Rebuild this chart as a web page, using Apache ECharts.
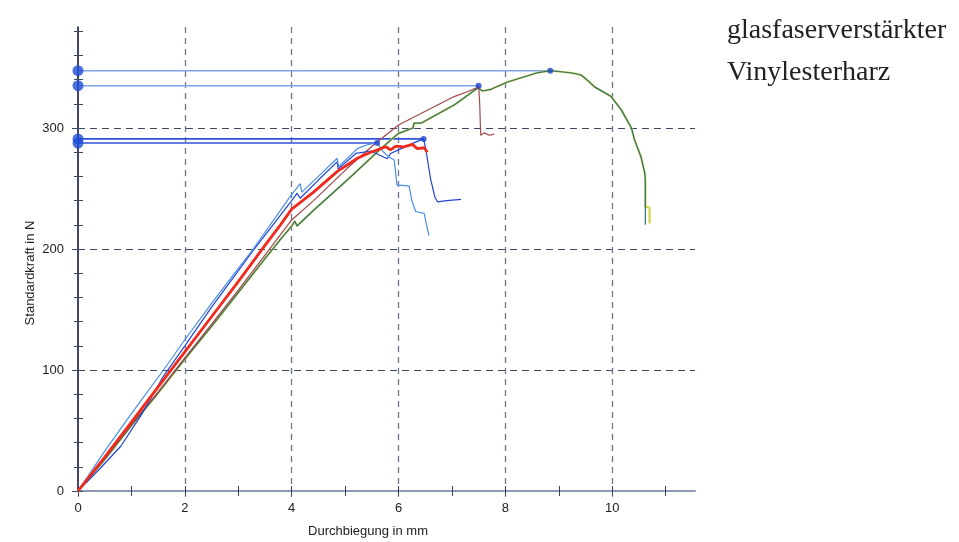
<!DOCTYPE html>
<html><head><meta charset="utf-8">
<script src="https://cdn.jsdelivr.net/npm/echarts@6/dist/echarts.min.js"></script>
<style>html,body{margin:0;padding:0;background:#fff}#c{width:959px;height:542px}</style>
</head><body><div id="c"></div>
<script>
// Durchbiegung (mm), Standardkraft (N)
const xTickValues = [0, 2, 4, 6, 8, 10];
const xMinorTicks = [0, 1, 2, 3, 4, 5, 6, 7, 8, 9, 10, 11];
const yTickValues = [0, 100, 200, 300];
const yMinorTicks = [0, 20, 40, 60, 80, 100, 120, 140, 160, 180, 200, 220, 240, 260, 280, 300, 320, 340, 360, 380];

const redCurve = [[0,0],[0.5,28],[1,57],[1.5,86],[2,115],[2.5,144],[3,173],[3.5,203],[3.79,220],[4,233],[4.41,247],[4.85,264],[5.23,275],[5.48,280],[5.67,283],[5.76,284.5],[5.85,282],[5.95,285],[6.1,284.5],[6.26,286.5],[6.35,283],[6.48,283.7],[6.54,280]];

const lightBlueCurve = [[0,0],[0.5,33],[1,64],[1.6,100],[2,125],[2.5,155],[3,184],[3.28,200],[3.98,244],[4.16,254],[4.19,247],[4.5,260],[4.85,275],[4.88,268],[5.23,283],[5.4,286],[5.6,288],[5.7,281],[5.82,276],[5.92,273.5],[5.97,253],[6.2,252],[6.25,240],[6.32,231],[6.48,229.5],[6.52,221],[6.57,211]];

const darkBlueCurve = [[0,0],[0.4,18],[0.8,37],[1.2,64],[1.6,95],[2,120],[2.5,152],[3,182],[3.3,200],[4,240],[4.1,246],[4.16,242],[4.5,257],[4.85,272],[4.87,266],[5.2,279],[5.48,281],[5.79,274.6],[5.85,279],[6.1,284],[6.35,289],[6.47,291],[6.52,280],[6.6,258],[6.68,243],[6.73,239],[6.9,240],[7.17,241]];

const brownCurve = [[0,0],[0.5,27],[1,55],[1.5,82],[2,110],[2.5,138],[3,166],[3.5,195],[4,224],[4.41,240],[5.04,266.7],[5.53,286],[6.0,302.5],[6.42,312],[6.73,319],[7.04,326],[7.29,330],[7.45,333],[7.5,335],[7.52,320],[7.53,305],[7.54,294],[7.6,296],[7.7,294],[7.79,295]];

const greenCurve = [[0,0],[0.5,26],[1,54],[1.5,81],[2,109],[2.5,136],[3,164],[3.5,192],[3.79,208],[4,219],[4.06,223],[4.1,219],[4.41,232],[5.04,257],[5.67,283],[6.0,295.6],[6.27,300],[6.29,304],[6.42,304],[7.04,319],[7.45,332],[7.5,333],[7.57,330.6],[7.73,332],[8.04,338],[8.6,345.7],[8.84,347.4],[9.04,346.5],[9.25,345.5],[9.42,343.8],[9.55,339],[9.67,334],[9.98,326],[10.17,315],[10.36,300],[10.42,290],[10.54,276],[10.61,262.6],[10.62,257],[10.62,220]];
const yellowTail = [[10.62,235],[10.7,234],[10.7,221]];

const peakDeflections = [8.84, 7.5, 6.47, 5.6];
const peakForces = [347.4, 335, 291, 287.6];
const peakLineColors = ['#7ea4ee', '#7ea4ee', '#2f52d6', '#2f52d6'];

const chart = echarts.init(document.getElementById('c'));
const XMAX = 11.55, YMAX = 383.5;
const fontSans = '"Liberation Sans", Arial, sans-serif';

const series = [];
peakForces.forEach((f, i) => {
  series.push({type:'line', xAxisIndex:0, yAxisIndex:0, data:[[0,f],[peakDeflections[i],f]], symbol:'none',
    lineStyle:{color:peakLineColors[i], width:1.6}, z:2, silent:true});
});
series.push({type:'line', data: greenCurve.slice(0, -1).concat(yellowTail), symbol:'none', lineStyle:{color:'#d2d64a', width:2.2}, z:3});
series.push({type:'line', data: greenCurve, symbol:'none', lineStyle:{color:'#2e6e74', width:1.2}, z:4});
series.push({type:'line', data: brownCurve, symbol:'none', lineStyle:{color:'#a0484a', width:1.2}, z:4});
series.push({type:'line', data: darkBlueCurve, symbol:'none', lineStyle:{color:'#2244d4', width:1.2}, z:4});
series.push({type:'line', data: lightBlueCurve, symbol:'none', lineStyle:{color:'#4a8ee8', width:1.2}, z:4});
series.push({type:'line', data: redCurve, symbol:'none', lineStyle:{color:'#f02a1c', width:2.8}, z:5});
series.push({type:'scatter', data: peakForces.map(f => [0, f]), symbolSize:11, itemStyle:{color:'#1f4fd6'}, clip:false, z:6});
series.push({type:'scatter', data: peakForces.map((f, i) => [peakDeflections[i], f]), symbolSize:6, itemStyle:{color:'#1f45c8'}, clip:false, z:6});

const baseX = {type:'value', min:0, max:XMAX, position:'bottom', gridIndex:0};
const baseY = {type:'value', min:0, max:YMAX, position:'left', gridIndex:0};

chart.setOption({
  animation:false,
  backgroundColor:'#ffffff',
  grid:{left:78, top:27, width:617, height:464, containLabel:false, outerBoundsMode:'none'},
  xAxis:[
    Object.assign({}, baseX, {interval:2,
      axisLine:{show:true, onZero:false, lineStyle:{color:'#8c9bb2', width:2}},
      axisTick:{show:true, length:6, customValues: xTickValues, lineStyle:{color:'#7a8498', width:1}},
      axisLabel:{margin:11, fontSize:13, color:'#222', fontFamily:fontSans, customValues: xTickValues,
        formatter: v => xTickValues.indexOf(v) >= 0 ? String(v) : ''},
      splitLine:{show:true, showMinLine:false, showMaxLine:true, lineStyle:{type:[6,5], color:'#6e7689', width:1.3}}}),
    Object.assign({}, baseX, {interval:1, axisLine:{show:false}, axisLabel:{show:false}, splitLine:{show:false},
      axisTick:{show:true, inside:true, length:5, customValues: xMinorTicks, lineStyle:{color:'#3a3f55', width:1}}}),
    Object.assign({}, baseX, {interval:1, axisLine:{show:false}, axisLabel:{show:false}, splitLine:{show:false},
      axisTick:{show:true, inside:false, length:5, customValues: xMinorTicks, lineStyle:{color:'#3a3f55', width:1}}})
  ],
  yAxis:[
    Object.assign({}, baseY, {interval:100,
      axisLine:{show:true, onZero:false, lineStyle:{color:'#141a44', width:1.6}},
      axisTick:{show:true, length:6, customValues: yTickValues, lineStyle:{color:'#3a4866', width:1}},
      axisLabel:{margin:14, fontSize:13, color:'#222', fontFamily:fontSans, customValues: yTickValues,
        formatter: v => yTickValues.indexOf(v) >= 0 ? String(v) : ''},
      splitLine:{show:true, showMinLine:false, showMaxLine:true, lineStyle:{type:[7,5], color:'#3a4866', width:1.2}}}),
    Object.assign({}, baseY, {interval:20, axisLine:{show:false}, axisLabel:{show:false}, splitLine:{show:false},
      axisTick:{show:true, inside:true, length:5, customValues: yMinorTicks, lineStyle:{color:'#3a4866', width:1}}}),
    Object.assign({}, baseY, {interval:20, axisLine:{show:false}, axisLabel:{show:false}, splitLine:{show:false},
      axisTick:{show:true, inside:false, length:4, customValues: yMinorTicks, lineStyle:{color:'#3a4866', width:1}}})
  ],
  graphic:[
    {type:'text', x:727, y:31, style:{text:'glasfaserverstärkter', font:'28px "Liberation Serif", serif', fill:'#222', textAlign:'left', textVerticalAlign:'middle'}},
    {type:'text', x:727, y:73, style:{text:'Vinylesterharz', font:'28px "Liberation Serif", serif', fill:'#222', textAlign:'left', textVerticalAlign:'middle'}},
    {type:'text', x:368, y:531, style:{text:'Durchbiegung in mm', font:'13px "Liberation Sans", Arial, sans-serif', fill:'#222', textAlign:'center', textVerticalAlign:'middle'}},
    {type:'text', x:30, y:273, rotation:Math.PI/2, style:{text:'Standardkraft in N', font:'13px "Liberation Sans", Arial, sans-serif', fill:'#222', textAlign:'center', textVerticalAlign:'middle'}}
  ],
  series: series
});
</script></body></html>
